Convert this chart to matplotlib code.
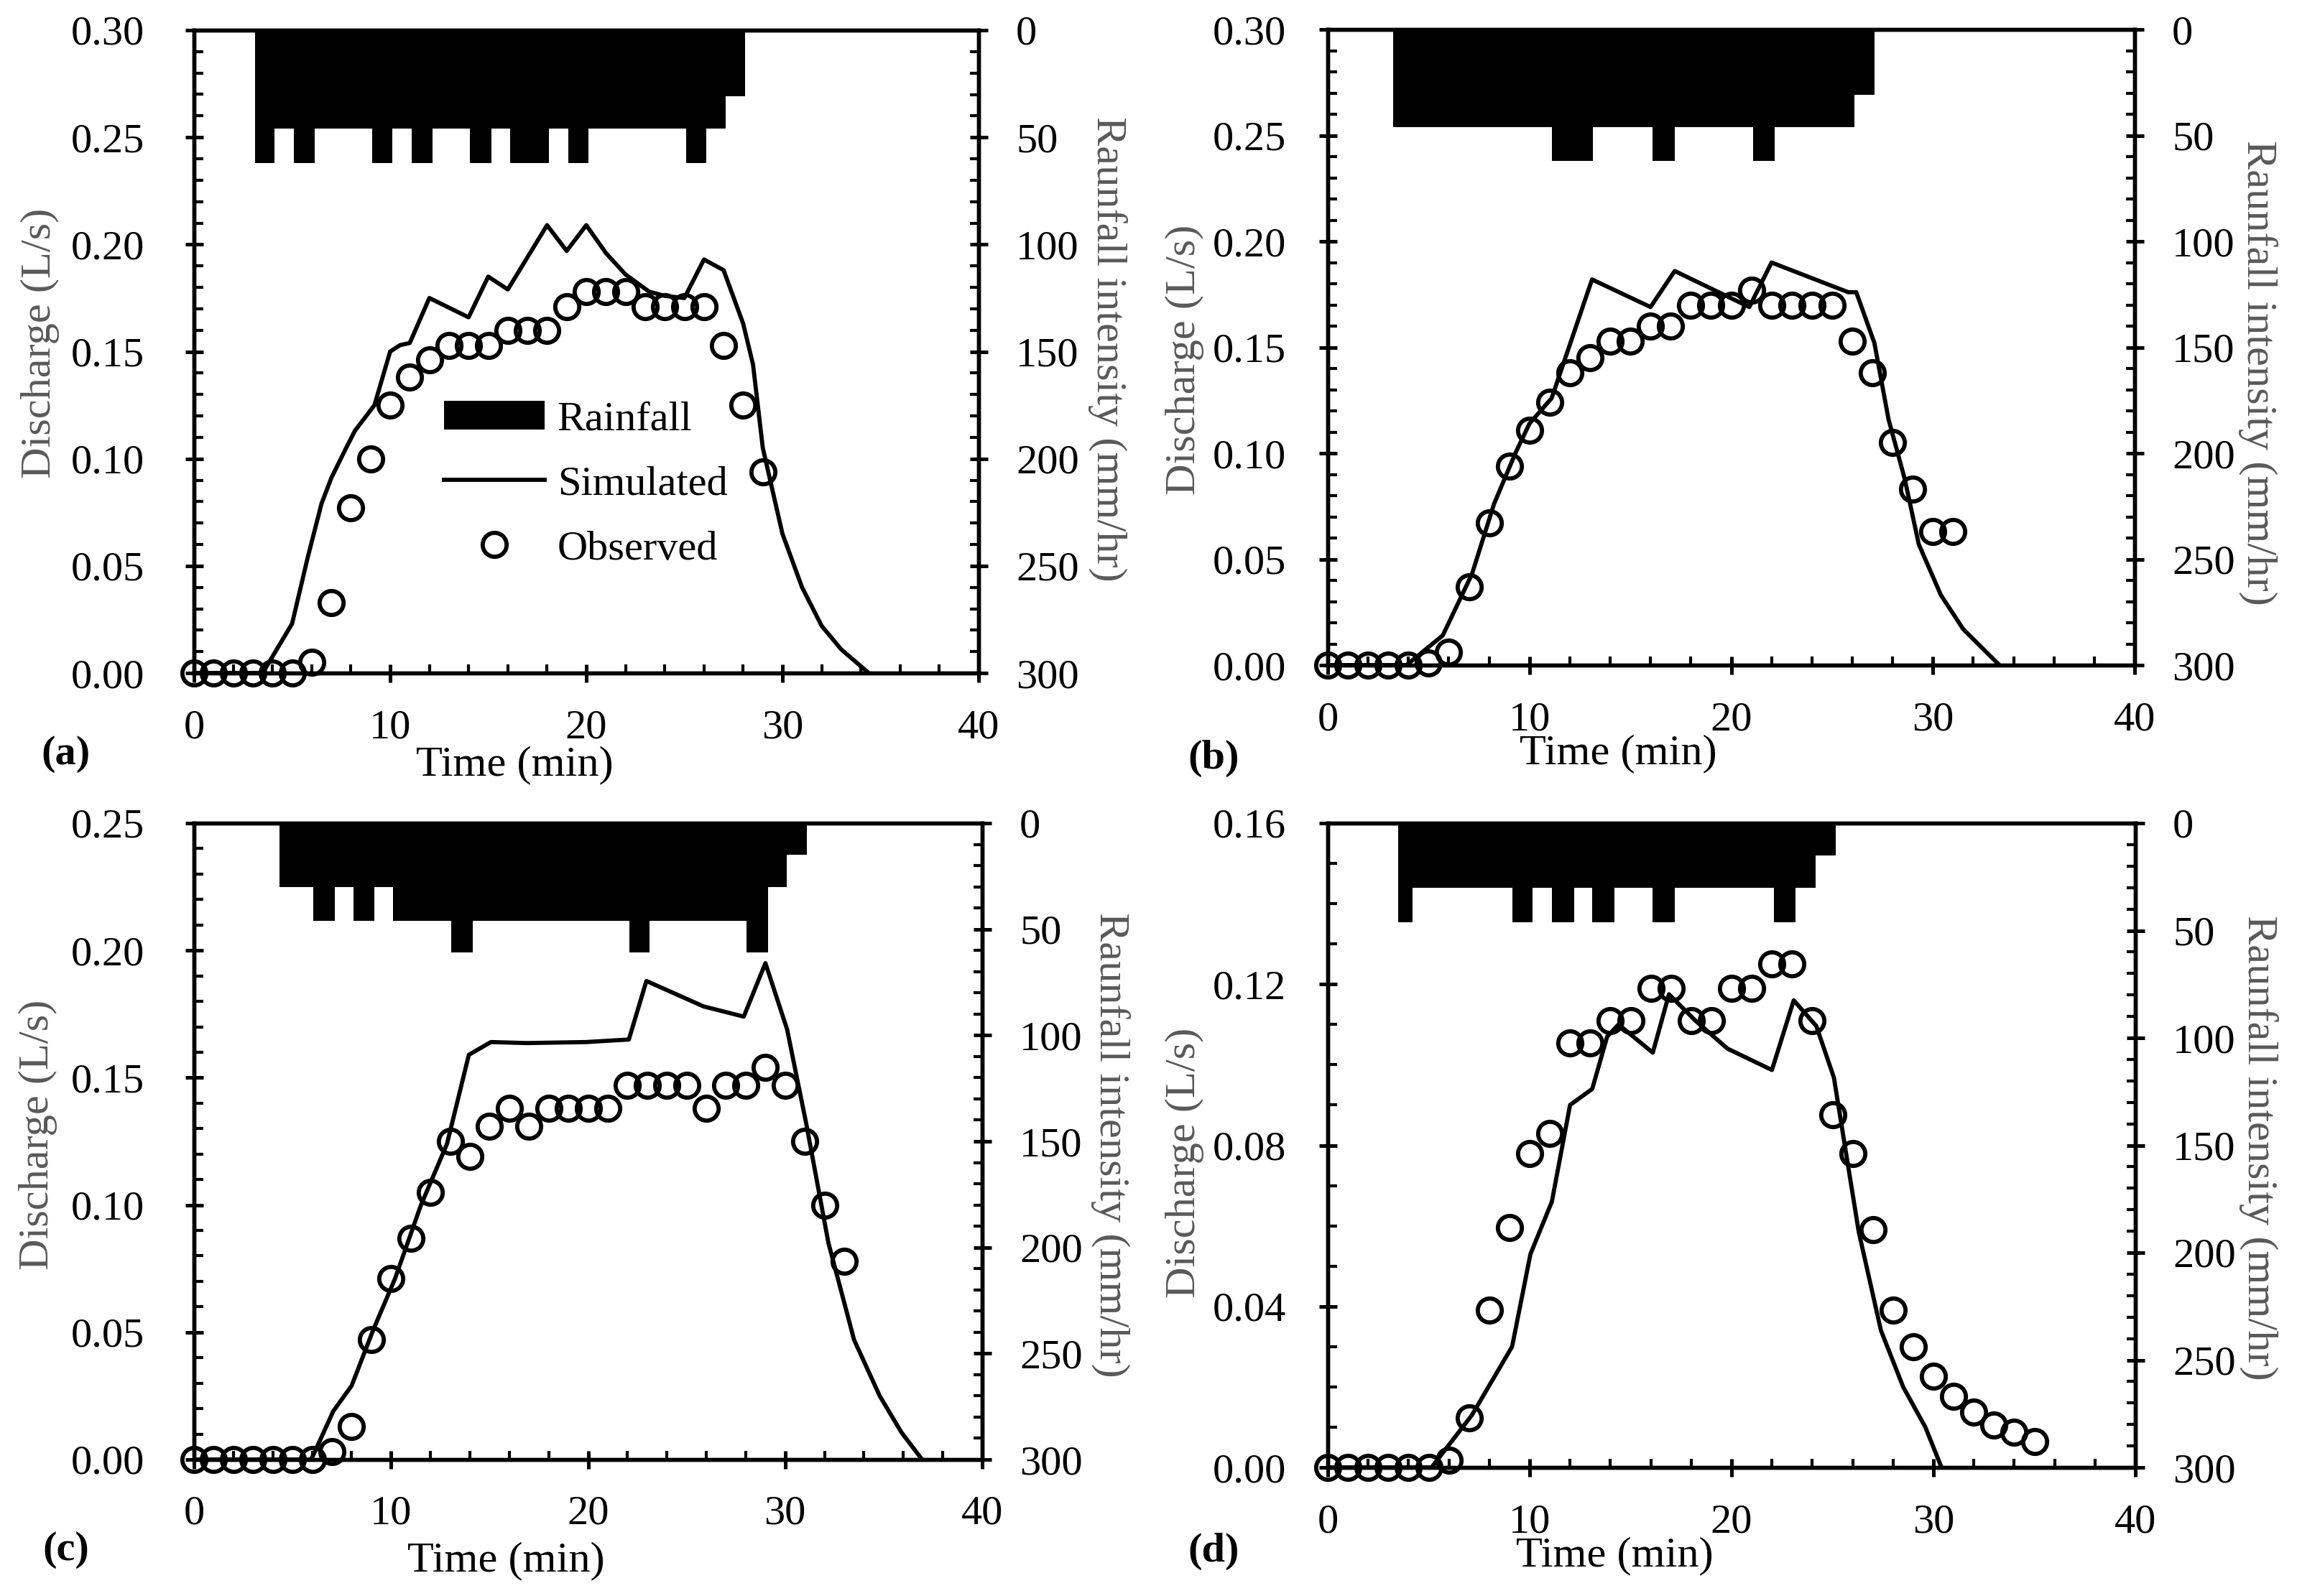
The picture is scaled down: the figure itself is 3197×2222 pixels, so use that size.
import matplotlib
matplotlib.use('Agg')
import matplotlib.pyplot as plt
from matplotlib.ticker import MultipleLocator, FormatStrFormatter

plt.rcParams['font.family'] = ['Liberation Serif', 'DejaVu Serif']

# ---------------- data ----------------
# (a)
obs_t_a = list(range(0, 30))
obs_q_a = [0, 0, 0, 0, 0, 0, 0.005, 0.033, 0.077, 0.100, 0.125, 0.138, 0.146, 0.153, 0.153,
           0.153, 0.160, 0.160, 0.160, 0.171, 0.178, 0.178, 0.178, 0.171, 0.171, 0.171,
           0.171, 0.153, 0.125, 0.094]
sim_t_a = [0, 3.5, 5, 5.8, 6.5, 7, 7.7, 8.2, 9.2, 10, 10.5, 11, 12, 14, 15, 16, 18, 19, 20, 21,
           22, 23.2, 24, 25, 26, 27, 28, 28.5, 29, 30, 31, 32, 33, 34.4]
sim_q_a = [0, 0, 0.023, 0.054, 0.079, 0.091, 0.104, 0.113, 0.125, 0.150, 0.153, 0.154, 0.175,
           0.166, 0.185, 0.179, 0.209, 0.197, 0.209, 0.196, 0.186, 0.178, 0.176, 0.175, 0.193,
           0.188, 0.163, 0.144, 0.105, 0.065, 0.040, 0.022, 0.011, 0.0]
rain_edges_a = [3.1, 4.1, 5.1, 6.15, 9.1, 10.1, 11.1, 12.15, 14.05, 15.15, 16.1, 18.1, 19.1,
                20.1, 25.1, 26.1, 27.1, 28.1]
rain_i_a = [62, 46, 62, 46, 62, 46, 62, 46, 62, 46, 62, 46, 62, 46, 62, 46, 31]

# (b)
obs_t_b = list(range(0, 32))
obs_q_b = [0, 0, 0, 0, 0, 0.001, 0.006, 0.037, 0.067, 0.094, 0.111, 0.124, 0.138, 0.145,
           0.153, 0.153, 0.160, 0.160, 0.170, 0.170, 0.170, 0.177, 0.170, 0.170, 0.170, 0.170,
           0.153, 0.138, 0.105, 0.083, 0.063, 0.063]
sim_t_b = [0, 3.9, 5.7, 7.15, 8.24, 9.3, 10, 11.1, 13.1, 16.0, 17.2, 20.9, 22.0, 25.8, 26.2,
           27.1, 27.8, 28.6, 29.3, 30.4, 31.5, 33.3]
sim_q_b = [0, 0, 0.014, 0.043, 0.076, 0.100, 0.114, 0.126, 0.182, 0.169, 0.186, 0.169, 0.190,
           0.176, 0.176, 0.152, 0.116, 0.088, 0.057, 0.033, 0.017, 0.0]
rain_edges_b = [3.25, 11.1, 13.15, 16.1, 17.2, 21.1, 22.15, 26.1, 27.1]
rain_i_b = [46, 62, 46, 62, 46, 62, 46, 31]

# (c)
obs_t_c = list(range(0, 34))
obs_q_c = [0, 0, 0, 0, 0, 0, 0, 0.003, 0.013, 0.047, 0.071, 0.087, 0.105, 0.125, 0.119,
           0.131, 0.138, 0.131, 0.138, 0.138, 0.138, 0.138, 0.147, 0.147, 0.147, 0.147,
           0.138, 0.147, 0.147, 0.154, 0.147, 0.125, 0.100, 0.078]
sim_t_c = [0, 5.95, 7.07, 8.0, 9.1, 10.2, 11.5, 12.84, 13.95, 15.07, 16.9, 19.9, 22.07, 22.96,
           25.86, 27.9, 29.0, 30.1, 31.07, 32.2, 33.5, 34.8, 35.9, 36.95]
sim_q_c = [0, 0, 0.019, 0.029, 0.051, 0.071, 0.0996, 0.124, 0.159, 0.164, 0.1636, 0.164,
           0.165, 0.188, 0.178, 0.174, 0.195, 0.169, 0.132, 0.085, 0.047, 0.025, 0.0107, 0.0]
rain_edges_c = [4.35, 6.05, 7.15, 8.1, 9.15, 10.1, 13.05, 14.15, 22.1, 23.1, 28.05, 29.15,
                30.1, 31.1]
rain_i_c = [30, 46, 30, 46, 30, 46, 61, 46, 61, 46, 61, 30, 15]

# (d)
obs_t_d = list(range(0, 36))
obs_q_d = [0, 0, 0, 0, 0, 0, 0.0017, 0.0123, 0.039, 0.0595, 0.078, 0.083, 0.1055, 0.1055,
           0.111, 0.111, 0.119, 0.119, 0.111, 0.111, 0.119, 0.119, 0.125, 0.125, 0.111,
           0.0876, 0.078, 0.059, 0.039, 0.030, 0.0227, 0.0176, 0.0138, 0.0106, 0.0087, 0.0064]
sim_t_d = [0, 5.14, 7.14, 9.13, 10.04, 11.1, 12.0, 13.1, 13.84, 14.4, 16.1, 16.9, 18.2, 19.8,
           22.0, 23.08, 24.2, 25.07, 26.3, 27.4, 28.5, 29.6, 30.4]
sim_q_d = [0, 0, 0.013, 0.030, 0.053, 0.066, 0.090, 0.094, 0.107, 0.110, 0.103, 0.1175, 0.111,
           0.104, 0.0987, 0.116, 0.1096, 0.0968, 0.0585, 0.034, 0.020, 0.010, 0.0]
rain_edges_d = [3.5, 4.2, 9.15, 10.15, 11.1, 12.2, 13.1, 14.2, 16.1, 17.2, 22.1, 23.15, 24.15,
                25.15]
rain_i_d = [46, 30, 46, 30, 46, 30, 46, 30, 46, 30, 46, 30, 15]

# axis limits / tick steps per panel
ymax = {'a': 0.30, 'b': 0.30, 'c': 0.25, 'd': 0.16}
ymajor = {'a': 0.05, 'b': 0.05, 'c': 0.05, 'd': 0.04}

# ---------------- figure ----------------
W, H = 3197, 2222
fig = plt.figure(figsize=(W / 300, H / 300), dpi=300)

# key, axes box (px), data, ylabel coords, right-label coords, xlabel coords, panel label px, left pad
panels = [
    ('a', (270, 1362, 42, 937), obs_t_a, obs_q_a, sim_t_a, sim_q_a, rain_edges_a, rain_i_a,
     (-0.196, 0.513), (1.164, 0.504), (0.409, -0.143), (92, 1050), 13.5),
    ('b', (1848, 2971, 41, 926), obs_t_b, obs_q_b, sim_t_b, sim_q_b, rain_edges_b, rain_i_b,
     (-0.177, 0.48), (1.153, 0.46), (0.36, -0.139), (1689, 1056), 11),
    ('c', (270, 1367, 1146, 2032), obs_t_c, obs_q_c, sim_t_c, sim_q_c, rain_edges_c, rain_i_c,
     (-0.198, 0.51), (1.163, 0.494), (0.396, -0.159), (92, 2158), 13.5),
    ('d', (1848, 2972, 1146, 2043), obs_t_d, obs_q_d, sim_t_d, sim_q_d, rain_edges_d, rain_i_d,
     (-0.177, 0.473), (1.153, 0.496), (0.355, -0.137), (1689, 2160), 11),
]

gray = '#595959'
lw_sp = 1.3

for (key, (l, r, t, b), ot, oq, st, sq, re, ri, ylc, y2lc, xlc, plab, lpad) in panels:
    ax = fig.add_axes([l / W, 1 - b / H, (r - l) / W, (b - t) / H])
    ax2 = ax.twinx()

    # rainfall (secondary, inverted)
    rain = ax2.stairs(ri, re, baseline=0, fill=True, color='black', linewidth=0,
                      label='Rainfall')
    ax2.set_ylim(300, 0)
    ax2.yaxis.set_major_locator(MultipleLocator(50))
    ax2.yaxis.set_minor_locator(MultipleLocator(10))

    sim_line, = ax.plot(st, sq, color='black', lw=1.4, label='Simulated', zorder=3)
    obs_pts, = ax.plot(ot, oq, 'o', ms=8.0, mfc='none', mec='black', mew=1.4,
                       label='Observed', clip_on=False, zorder=4)

    ax.set_xlim(0, 40)
    ax.set_ylim(0, ymax[key])
    ax.xaxis.set_major_locator(MultipleLocator(10))
    ax.xaxis.set_minor_locator(MultipleLocator(2))
    ax.yaxis.set_major_locator(MultipleLocator(ymajor[key]))
    ax.yaxis.set_minor_locator(MultipleLocator(0.01))
    ax.yaxis.set_major_formatter(FormatStrFormatter('%.2f'))

    for a in (ax, ax2):
        for s in a.spines.values():
            s.set_linewidth(lw_sp)
            s.set_color('black')
        a.tick_params(which='major', direction='inout', length=6, width=1.2,
                      labelsize=14, colors='black')
        a.tick_params(which='minor', direction='in', length=3, width=1.0)
    ax.tick_params(axis='y', which='major', pad=lpad)
    ax.tick_params(axis='x', which='major', pad=9)
    ax2.tick_params(axis='y', which='major', pad=9.5)
    ax.tick_params(top=False, which='both')
    ax2.tick_params(top=False, which='both')

    ax.set_xlabel('Time (min)', fontsize=14.5, color='black')
    ax.xaxis.set_label_coords(*xlc)
    ax.xaxis.label.set_va('center')
    ax.set_ylabel('Discharge (L/s)', fontsize=14.5, color=gray)
    ax.yaxis.set_label_coords(*ylc)
    ax.yaxis.label.set_va('center')
    ax2.set_ylabel('Raunfall intensity (mm/hr)', fontsize=14.5, color=gray, rotation=-90)
    ax2.yaxis.set_label_coords(*y2lc)
    ax2.yaxis.label.set_va('center')

    fig.text(plab[0] / W, 1 - plab[1] / H, '(%s)' % key, fontsize=14, fontweight='bold',
             ha='center', va='center')

    if key == 'a':
        ax2.legend([rain, sim_line, obs_pts], ['Rainfall', 'Simulated', 'Observed'],
                   loc='upper left', bbox_to_anchor=(0.319, 0.424), frameon=False,
                   fontsize=14, handlelength=2.4, handleheight=0.7, handletextpad=0.3,
                   labelspacing=0.64, borderpad=0, borderaxespad=0)

fig.savefig('out.png', dpi=300)
